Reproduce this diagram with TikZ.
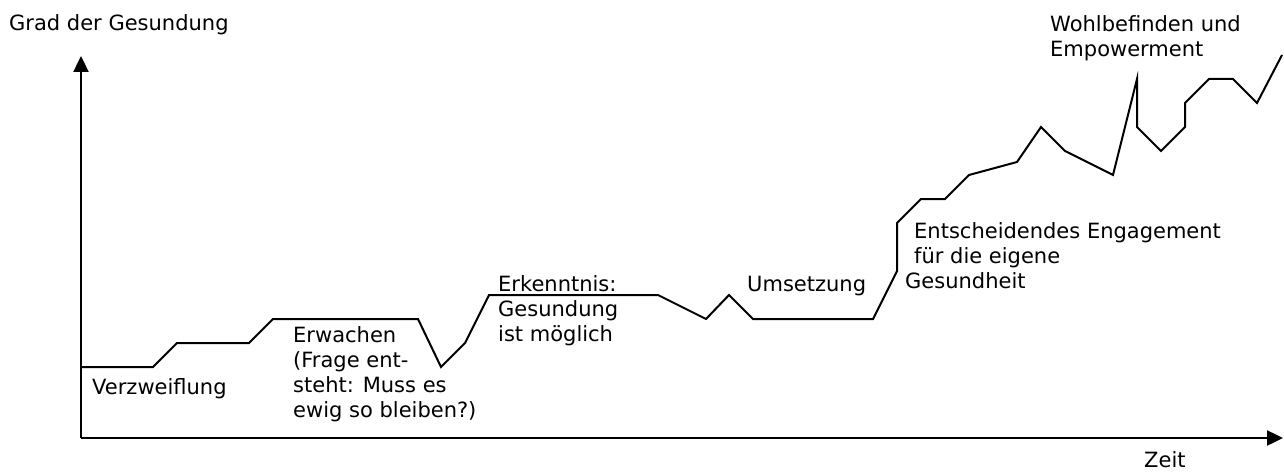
\documentclass[tikz,border=0pt]{standalone}
\usepackage{fontspec}
\setmainfont{DejaVu Sans}
\usetikzlibrary{arrows.meta}

\begin{document}
\begin{tikzpicture}[x=1pt,y=-1pt,
    lbl/.style={font=\fontsize{21}{25}\selectfont,anchor=base west,inner sep=0pt,align=left},
    achse/.style={line width=2.4pt,-{Triangle[length=16pt,width=15pt]}},
    verlauf/.style={line width=2pt,line join=miter}]
  \useasboundingbox (0,0) rectangle (1284,473);

  % ── Achsen ───────────────────────────────────────────
  \coordinate (O) at (81,438);
  \coordinate (ytop) at (81,56);
  \coordinate (xend) at (1283,438);
  \draw[achse] (O) -- (ytop);
  \draw[achse] (O) -- (xend);
  \node[lbl] (grad) at (9,31){Grad der Gesundung};
  \node[lbl] (zeit) at (1144,467){Zeit};

  % ── Verlauf ──────────────────────────────────────────
  \draw[verlauf] (81,367) -- (153,367) -- (177,343) -- (249,343) -- (273,319)
    -- (418,319) -- (441,367) -- (465,343) -- (489,295) -- (658,295)
    -- (706,319) -- (729,295) -- (753,319) -- (873,319) -- (897,271)
    -- (897,223) -- (921,199) -- (945,199) -- (969,175) -- (1017,162)
    -- (1041,127) -- (1065,151) -- (1113,175) -- (1137,79) -- (1137,127)
    -- (1161,151) -- (1185,127) -- (1185,103) -- (1209,79) -- (1233,79)
    -- (1257,103) -- (1282,55);

  % ── Phasen (base = letzte Zeile) ─────────────────────
  \node[lbl] (verzw) at (92,394){Verzweiflung};
  \node[lbl] (erwachen) at (293,417){Erwachen\\(Frage ent-\\steht: Muss es\\ewig so bleiben?)};
  \node[lbl] (erkennt) at (498,341){Erkenntnis:\\Gesundung\\ist möglich};
  \node[lbl] (umsetz) at (747,291){Umsetzung};
  \node[lbl] (engag) at (914,263){Entscheidendes Engagement\\für die eigene};
  \node[lbl] (gesundh) at (905,288){Gesundheit};
  \node[lbl] (wohl) at (1050,57){Wohlbefinden und\\Empowerment};

\end{tikzpicture}
\end{document}
